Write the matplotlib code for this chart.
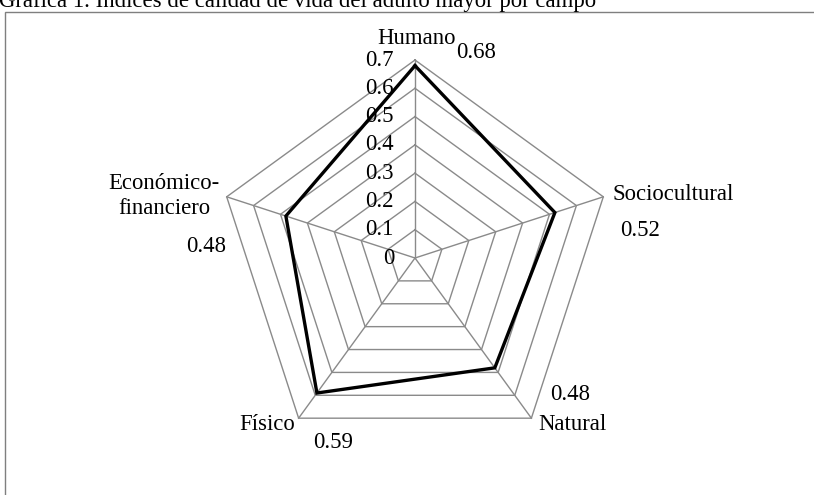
import numpy as np
import matplotlib
matplotlib.use('Agg')
import matplotlib.pyplot as plt

# Datos de la grafica
categorias = ['Humano', 'Sociocultural', 'Natural', 'Físico', 'Económico-\nfinanciero']
valores = [0.68, 0.52, 0.48, 0.59, 0.48]
niveles = [0, 0.1, 0.2, 0.3, 0.4, 0.5, 0.6, 0.7]
etiquetas_valor = ['0.68', '0.52', '0.48', '0.59', '0.48']
titulo = 'Gráfica 1. Índices de calidad de vida del adulto mayor por campo'

plt.rcParams['font.family'] = ['Liberation Serif', 'DejaVu Serif']

W, H = 814, 495
cx, cy = 415, 258          # centro del radar en pixeles
escala = 198 / 0.7         # pixeles por unidad
gris = '#8a8a8a'
fs = 16.4

fig = plt.figure(figsize=(W / 100, H / 100), dpi=100)
ax = fig.add_axes([0, 0, 1, 1])
ax.set_xlim(-cx / escala, (W - cx) / escala)
ax.set_ylim(-(H - cy) / escala, cy / escala)
ax.axis('off')

ang = np.pi / 2 - 2 * np.pi * np.arange(len(categorias)) / len(categorias)
cs, sn = np.cos(ang), np.sin(ang)

# anillos y radios
for n in niveles[1:]:
    ax.plot(np.append(n * cs, n * cs[0]), np.append(n * sn, n * sn[0]),
            color=gris, lw=1.0, zorder=1)
for c, s in zip(cs, sn):
    ax.plot([0, niveles[-1] * c], [0, niveles[-1] * s], color=gris, lw=1.0, zorder=1)

# serie
v = np.array(valores)
ax.plot(np.append(v * cs, v[0] * cs[0]), np.append(v * sn, v[0] * sn[0]),
        color='black', lw=2.4, solid_joinstyle='miter', zorder=3)

# etiquetas del eje
for n in niveles:
    ax.text(-21 / escala, n, '%g' % n, ha='right', va='center', fontsize=fs, zorder=2)

# etiquetas de categoria y valores (posiciones en pixeles)
pos_cat = [(417, 39, 'center'), (612, 194, 'left'), (572, 424, 'center'),
           (267, 424, 'center'), (164, 196, 'center')]
pos_val = [(476, 52), (640, 230), (570, 395), (333, 442), (206, 246)]
for (x, y, ha), nombre in zip(pos_cat, categorias):
    fig.text(x / W, 1 - y / H, nombre, ha=ha, va='center', fontsize=fs,
             linespacing=1.3, multialignment='center')
for (x, y), et in zip(pos_val, etiquetas_valor):
    fig.text(x / W, 1 - y / H, et, ha='center', va='center', fontsize=fs)

# marco y titulo
marco = plt.Rectangle((5 / W, -0.1), 1.2, 1.1 - 12 / H, transform=fig.transFigure,
                      fill=False, edgecolor='#7f7f7f', lw=1.0)
fig.add_artist(marco)
fig.text(-1 / W, 1 - 7 / H, titulo, ha='left', va='baseline', fontsize=fs)

fig.savefig('out.png', dpi=100)
